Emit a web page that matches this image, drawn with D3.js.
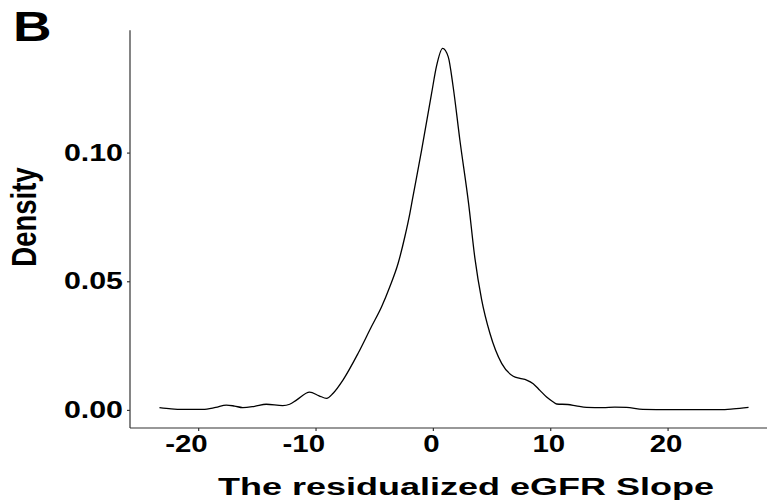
<!DOCTYPE html>
<html>
<head>
<meta charset="utf-8">
<script src="https://cdn.jsdelivr.net/npm/d3@7"></script>
<style>
  html, body { margin: 0; padding: 0; background: #ffffff; }
  svg text { font-family: "Liberation Sans", Arial, Helvetica, sans-serif; font-weight: bold; fill: #000; }
</style>
</head>
<body>
<svg id="chart" width="767" height="503"></svg>
<script>
// Kernel density estimate of the residualized eGFR slope
const slopeX = [
  -23.3, -22.3, -21.3, -19.6, -18.5, -17.6, -16.9, -16.2, -15.2, -14.2,
  -12.8, -12.2, -11.6, -10.5, -9.7, -9.06, -8.5, -7.65, -6.37, -5.23,
  -4.37, -3.67, -2.96, -2.39, -1.96, -1.75, -0.96, -0.11, 0.31, 0.83,
  1.31, 1.73, 2.30, 3.05, 3.58, 4.15, 4.86, 5.86, 6.85, 7.42,
  7.99, 8.55, 9.12, 9.69, 10.26, 10.55, 11.5, 12.2, 13.1, 14.5,
  15.5, 16.5, 17.9, 20.2, 22.5, 24.5, 25.6, 26.9
];
const densityY = [
  0.0009, 0.0004, 0.0002, 0.0002, 0.0010, 0.0019, 0.0015, 0.0009, 0.0014, 0.0022,
  0.0017, 0.0022, 0.0039, 0.0069, 0.0055, 0.0045, 0.0065, 0.0117, 0.0220, 0.0324,
  0.0401, 0.0479, 0.0570, 0.0673, 0.0764, 0.0816, 0.1010, 0.1230, 0.1336, 0.1405,
  0.1372, 0.1255, 0.1049, 0.0800, 0.0590, 0.0430, 0.0298, 0.0181, 0.0131, 0.0123,
  0.0116, 0.0102, 0.0076, 0.0050, 0.0031, 0.0023, 0.0021, 0.0016, 0.0010, 0.0009,
  0.0011, 0.0010, 0.0002, 0.0001, 0.0001, 0.0001, 0.0004, 0.0010
];
const xTicks = [-20, -10, 0, 10, 20];
const yTicks = [0, 0.05, 0.10];
const yTickLabels = ["0.00", "0.05", "0.10"];

const panelTag = "B";
const xTitle = "The residualized eGFR Slope";
const yTitle = "Density";

const svg = d3.select("#chart");
const plotLeft = 130, plotRight = 778, plotTop = 30.3, plotBottom = 428;

// 5% expansion on both axes, as ggplot does
const xExt = d3.extent(slopeX);
const xPad = (xExt[1] - xExt[0]) * 0.05;
const x = d3.scaleLinear().domain([xExt[0] - xPad, xExt[1] + xPad]).range([plotLeft, plotRight]);
const yMax = d3.max(densityY);
const y = d3.scaleLinear().domain([-yMax * 0.05, yMax * 1.05]).range([plotBottom, plotTop]);

const points = slopeX.map((v, i) => [v, densityY[i]]);

// density curve
svg.append("path")
  .datum(points)
  .attr("fill", "none")
  .attr("stroke", "#000")
  .attr("stroke-width", 1.3)
  .attr("d", d3.line().x(d => x(d[0])).y(d => y(d[1])).curve(d3.curveMonotoneX));

// axes
const xAxis = svg.append("g").attr("transform", `translate(0,${plotBottom})`)
  .call(d3.axisBottom(x).tickValues(xTicks).tickSize(3).tickSizeOuter(0));
const yAxis = svg.append("g").attr("transform", `translate(${plotLeft},0)`)
  .call(d3.axisLeft(y).tickValues(yTicks).tickSize(3).tickSizeOuter(0));

[xAxis, yAxis].forEach(g => {
  g.select(".domain").attr("stroke", "#333").attr("stroke-width", 1.2);
  g.selectAll(".tick line").attr("stroke", "#333").attr("stroke-width", 1.2);
  g.selectAll("text").remove();
});
xAxis.select(".domain").attr("d", `M${plotLeft},0H767`);
yAxis.select(".domain").attr("d", `M0,${plotTop}V${plotBottom}`);

// tick labels, drawn in the wide bold face of the figure;
// the minus sign hangs to the left of the centred digits
svg.append("g").selectAll("text").data(xTicks).join("text")
  .attr("transform", d => `translate(${x(d)},452) scale(1.28,1)`)
  .attr("text-anchor", "middle")
  .attr("dx", d => d < 0 ? "-0.4em" : "-0.05em")
  .attr("font-size", 23)
  .text(d => String(d));

svg.append("g").selectAll("text").data(yTicks).join("text")
  .attr("transform", d => `translate(123,${y(d) + 8}) scale(1.32,1)`)
  .attr("text-anchor", "end")
  .attr("font-size", 23)
  .text((d, i) => yTickLabels[i]);

// axis titles
svg.append("text")
  .attr("transform", "translate(466,495) scale(1.5,1)")
  .attr("text-anchor", "middle")
  .attr("font-size", 24)
  .text(xTitle);

svg.append("text")
  .attr("transform", "translate(36,217) scale(1.3,1) rotate(-90)")
  .attr("text-anchor", "middle")
  .attr("font-size", 27.5)
  .text(yTitle);

// panel tag
svg.append("text")
  .attr("transform", "translate(13,41) scale(1.27,1)")
  .attr("font-size", 42)
  .text(panelTag);
</script>
</body>
</html>
